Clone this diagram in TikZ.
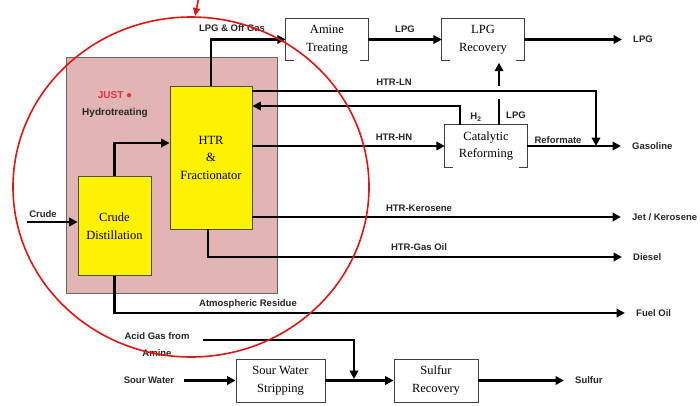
\documentclass[tikz,border=0pt]{standalone}
\usepackage{fontspec}
\setmainfont{Liberation Serif}
\setsansfont{Liberation Sans}
\usetikzlibrary{arrows.meta}
\definecolor{hydropink}{RGB}{226,181,181}
\definecolor{circred}{RGB}{222,22,22}
\definecolor{justred}{RGB}{232,48,60}
\newcommand\openbox[1]{\draw[boxline] ([xshift=8pt]#1.south west) -- (#1.south west) -- (#1.north west) -- (#1.north east) -- (#1.south east) -- ([xshift=-8pt]#1.south east);}

\begin{document}
\begin{tikzpicture}[x=1pt,y=-1pt,
    flow/.style={line width=2.8pt,-{Triangle[length=8.5pt,width=8.5pt]}},
    pipe/.style={line width=2.8pt},
    boxline/.style={draw=black!75,line width=0.8pt},
    lbl/.style={font=\sffamily\bfseries\fontsize{9.5}{17}\selectfont,text=black!85,inner sep=1pt},
    outlbl/.style={lbl,anchor=west,inner sep=3pt},
    unit/.style={draw=black!70,line width=0.8pt,fill=yellow,inner sep=0pt,align=center,font=\fontsize{12.5}{17.5}\selectfont},
    plant/.style={inner sep=0pt,minimum width=82pt,minimum height=42pt,align=center,font=\fontsize{12.5}{17.5}\selectfont}]
    \useasboundingbox (0,0) rectangle (700,405);
    \fill[white] (0,0) rectangle (700,405);
    % hydrotreating block
    \filldraw[fill=hydropink,draw=black!60,line width=0.8pt] (66,57) rectangle (277,293);
    \node[lbl,text=justred,font=\sffamily\bfseries\fontsize{10}{12}\selectfont] (just) at (115,95) {JUST ●};
    \node[lbl,font=\sffamily\bfseries\fontsize{10}{12}\selectfont] (hydro) at (115,113) {Hydrotreating};
    \node[unit,minimum width=82pt,minimum height=143pt] (htr) at (211,157.5) {HTR\\\&\\Fractionator};
    \node[unit,minimum width=73pt,minimum height=99pt] (cd) at (114.5,226) {Crude\\Distillation};
    % other plants
    \node[plant] (amine) at (327,39.5) {Amine\\Treating};
    \node[plant] (lpgrec) at (483,39.5) {LPG\\Recovery};
    \node[plant] (cr) at (486,146) {Catalytic\\Reforming};
    \openbox{amine}
    \openbox{lpgrec}
    \openbox{cr}
    \node[plant,boxline,minimum width=89pt,minimum height=43pt] (sws) at (280.5,380.5) {Sour Water\\Stripping};
    \node[plant,boxline,minimum width=84pt,minimum height=43pt] (sr) at (436,380.5) {Sulfur\\Recovery};
    % stream labels
    \node[lbl] (crude) at (43,214) {Crude};
    \node[lbl] (lpgoff) at (232,28) {LPG \& Off Gas};
    \node[lbl] (lpg1) at (405,29) {LPG};
    \node[lbl] (htrln) at (394,82) {HTR-LN};
    \node[lbl] (h2) at (476,117) {H\textsubscript{2}};
    \node[lbl] (lpg2) at (516,115) {LPG};
    \node[lbl] (htrhn) at (394,137) {HTR-HN};
    \node[lbl] (reformate) at (558,140) {Reformate};
    \node[lbl] (kero) at (419,208) {HTR-Kerosene};
    \node[lbl] (gasoil) at (419,247) {HTR-Gas Oil};
    \node[lbl] (atres) at (248,304) {Atmospheric Residue};
    \node[lbl,align=center] (acid) at (157,345) {Acid Gas from\\Amine};
    \node[lbl] (sw) at (149,380.5) {Sour Water};
    % products
    \node[outlbl] (lpgout) at (630,39.5) {LPG};
    \node[outlbl] (gasoline) at (629,146) {Gasoline};
    \node[outlbl] (jet) at (629,217) {Jet / Kerosene};
    \node[outlbl] (diesel) at (630,257) {Diesel};
    \node[outlbl] (fuel) at (633,313) {Fuel Oil};
    \node[outlbl] (sulfur) at (572,380.5) {Sulfur};
    \coordinate (crudein) at (27,222);
    \coordinate (lnjoin) at (596,146);
    \coordinate (agin) at (203,340);
    \coordinate (agjoin) at (354,379);
    % streams
    \draw[flow] (crudein) -- (crudein -| cd.west);
    \draw[flow] (cd.north) |- ([yshift=14.5pt]htr.west);
    \draw[flow] (htr.north) |- (amine.west);
    \draw[flow] (amine.east) -- (lpgrec.west);
    \draw[flow] (lpgrec.east) -- ([xshift=-8pt]lpgout.west);
    \draw[flow] ([yshift=66.5pt]htr.east) -| (lnjoin);
    \draw[flow] ([xshift=-26pt]cr.north) |- ([yshift=51.5pt]htr.east);
    \draw[pipe] ([xshift=13pt]cr.north) -- ([xshift=13pt,yshift=26pt]cr.north);
    \draw[flow] ([xshift=16pt,yshift=-25pt]lpgrec.south) -- ([xshift=16pt,yshift=-2pt]lpgrec.south);
    \draw[flow] ([yshift=11.5pt]htr.east) -- (cr.west);
    \draw[flow] (cr.east) -- ([xshift=-8pt]gasoline.west);
    \draw[flow] ([yshift=-59.5pt]htr.east) -- ([xshift=-8pt]jet.west);
    \draw[flow] ([xshift=-3pt]htr.south) |- ([xshift=-8pt]diesel.west);
    \draw[flow] (cd.south) |- ([xshift=-8pt]fuel.west);
    \draw[flow] (agin) -| (agjoin);
    \draw[flow] ([xshift=9pt]sw.east) -- (sws.west);
    \draw[flow] (sws.east) -- (sr.west);
    \draw[flow] (sr.east) -- ([xshift=-8pt]sulfur.west);
    % red highlight
    \draw[circred,line width=1.6pt] (191,187) ellipse [x radius=178pt,y radius=170pt];
    \draw[circred,line width=1.6pt,-{Triangle[length=8pt,width=7pt]}] (199,-3) -- (195,16);
\end{tikzpicture}
\end{document}
